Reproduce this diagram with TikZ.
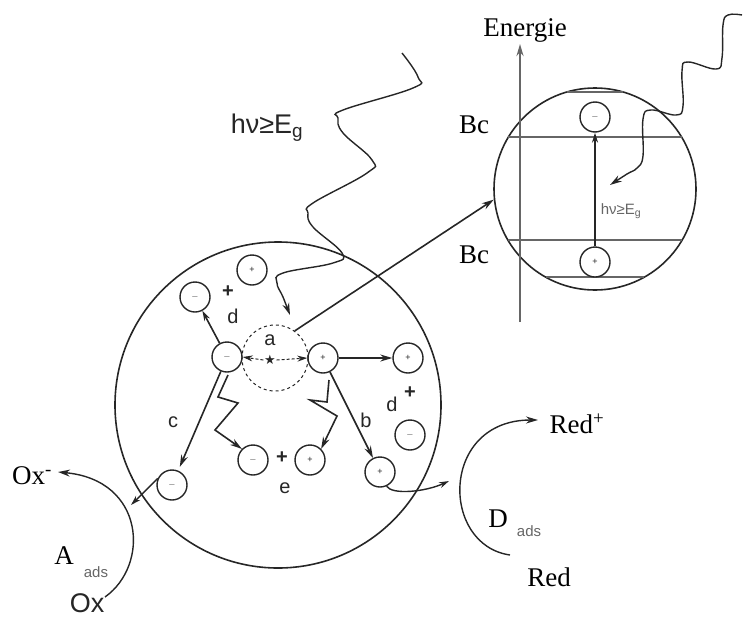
\documentclass[tikz,border=0pt]{standalone}
\usepackage{fontspec}
\setmainfont{Liberation Serif}
\setsansfont{Liberation Sans}
\newfontfamily\symfont{DejaVu Sans}
\usetikzlibrary{arrows.meta}

\definecolor{ink}{HTML}{262626}
\definecolor{soft}{HTML}{666666}

\begin{document}
\begin{tikzpicture}[x=1pt,y=-1pt,line width=1.6pt,color=ink,
  chg/.style={circle,draw=ink,line width=1.4pt,minimum size=30pt,inner sep=0pt,
    font=\sffamily\fontsize{9}{9}\selectfont},
  ring/.style={circle,draw=ink,line width=1.6pt,inner sep=0pt},
  tip/.style={-{Stealth[length=12pt,width=7pt]}},
  stip/.style={-{Stealth[length=10pt,width=6pt]}},
  lbl/.style={font=\sffamily\fontsize{20}{20}\selectfont,text=ink},
  plus/.style={font=\sffamily\bfseries\fontsize{20}{20}\selectfont,text=ink},
  serif/.style={font=\fontsize{27}{27}\selectfont,text=black},
  sans/.style={font=\sffamily\fontsize{27}{27}\selectfont,text=ink},
  sub/.style={font=\sffamily\fontsize{15}{15}\selectfont,text=soft}]

\useasboundingbox (0,0) rectangle (743,621);

% ---------- particle ----------
\node[ring,minimum size=326pt] (bc) at (278,405) {};
\node[ring,dashed,line width=1pt,minimum size=66pt] (dc) at (275,358) {};
\node[lbl] (la) at (270,340) {a};
\node[inner sep=0pt,font=\symfont\fontsize{13}{13}\selectfont] (star) at (270,360) {★};

% electron / hole pair formed at the centre
\node[chg] (m0) at (227,357) {$-$};
\node[chg] (p0) at (323,358) {+};
\draw[stip,densely dashed,line width=1pt] (star.west) -- (m0.east);
\draw[stip,densely dashed,line width=1pt] (star.east) -- (p0.west);

% d : migration to the surface (upper left)
\node[chg] (md) at (195,297) {$-$};
\node[chg] (pd) at (252,270) {+};
\node[plus] (pl1) at (228,292) {+};
\node[lbl] (ld1) at (233,316) {d};
\draw[stip] (m0) -- (md);

% d : migration to the surface (right)
\node[chg] (pr) at (408,358) {+};
\node[chg] (mr) at (410,435) {$-$};
\node[lbl] (ld2) at (392,404) {d};
\node[plus] (pl2) at (410,393) {+};
\draw[tip] (p0) -- (pr);

% c : electron to the surface
\node[chg] (mc) at (172,485) {$-$};
\node[lbl] (lc) at (173,422) {c};
\draw[tip,shorten >=4pt] (m0) -- (mc);

% b : hole to the surface
\node[chg] (pb) at (380,472) {+};
\node[lbl] (lb) at (366,420) {b};
\draw[tip] (p0) -- (pb);

% e : recombination
\node[chg] (me) at (253,460) {$-$};
\node[chg] (pe) at (310,460) {+};
\node[plus] (pl3) at (282,458) {+};
\node[lbl] (le) at (285,488) {e};
\coordinate (zl) at (228,375);
\coordinate (zr) at (329,380);
\draw[tip,line join=miter] (zl) -- (218,397) -- (238,403) -- (215,430) -- (me.north west);
\draw[tip,line join=miter] (zr) -- (327,402) -- (310,400) -- (337,416) -- (pe.north east);

% ---------- incoming light ----------
\node[sans] (hv1) at (267,128) {hν≥E\textsubscript{g}};
\coordinate (w1s) at (402,53);
\coordinate (w1e) at (290,315);
\draw[tip,line width=1.4pt] plot[smooth,tension=0.7] coordinates {
  (w1s) (418,77) (413,88) (343,110) (338,118) (343,133) (372,160) (367,173)
  (313,203) (308,213) (313,227) (342,253) (333,263) (283,273) (277,283)
  (283,297) (w1e)};

% ---------- energy scheme ----------
\node[ring,minimum size=202pt] (sc) at (595,189) {};
\node[serif] (en) at (525,30) {Energie};
\coordinate (ax0) at (520,322);
\coordinate (ax1) at (520,44);
\draw[tip,draw=soft,line width=2pt] (ax0) -- (ax1);
\node[serif] (bc1) at (474,125) {Bc};
\node[serif] (bc2) at (474,255) {Bc};
\draw[draw=soft,line width=1.7pt] (508,137) -- (682,137);
\draw[draw=soft,line width=1.7pt] (508,240) -- (682,240);
\draw[draw=soft,line width=1.7pt] (567,92) -- (623,92);
\draw[draw=soft,line width=1.7pt] (546,277) -- (644,277);
\node[chg,fill=white] (mv) at (595,117) {$-$};
\node[chg,fill=white] (pv) at (595,262) {+};
\draw[stip] (pv) -- (mv);
\node[sub] (hv2) at (621,211) {hν≥E\textsubscript{g}};
\coordinate (w2s) at (742,15);
\coordinate (w2e) at (610,185);
\draw[tip,line width=1.4pt] plot[smooth,tension=0.7] coordinates {
  (w2s) (728,15) (723,25) (722,58) (716,69) (688,62) (682,71) (683,106)
  (676,115) (651,110) (643,119) (643,156) (637,168) (627,174) (w2e)};

% zoom from the particle to the band scheme
\draw[tip] (dc.54) -- (sc.186);

% ---------- acceptor side ----------
\node[serif] (oxm) at (32,476) {Ox\textsuperscript{-}};
\node[sans] (ox) at (87,603) {Ox};
\node[serif] (aa) at (64,556) {A};
\node[sub] (aads) at (96,572) {ads};
\coordinate (oxa) at (105,597);
\coordinate (oxb) at (58,472);
\draw[tip,line width=1.4pt] (oxa) .. controls (150,565) and (145,480) .. (oxb);
\coordinate (hitA) at (131,505);
\draw[stip,line width=1.4pt] (mc.155) -- (hitA);

% ---------- donor side ----------
\node[serif] (redp) at (577,424) {Red\textsuperscript{+}};
\node[serif] (red) at (549,577) {Red};
\node[serif] (dd) at (498,519) {D};
\node[sub] (dads) at (529,531) {ads};
\coordinate (rda) at (510,555);
\coordinate (rdb) at (538,420);
\draw[tip,line width=1.4pt] (rda) .. controls (440,545) and (440,420) .. (rdb);
\coordinate (hitD) at (449,481);
\draw[stip,line width=1.4pt] (pb.-65) .. controls (392,495) and (425,492) .. (hitD);

\end{tikzpicture}
\end{document}
